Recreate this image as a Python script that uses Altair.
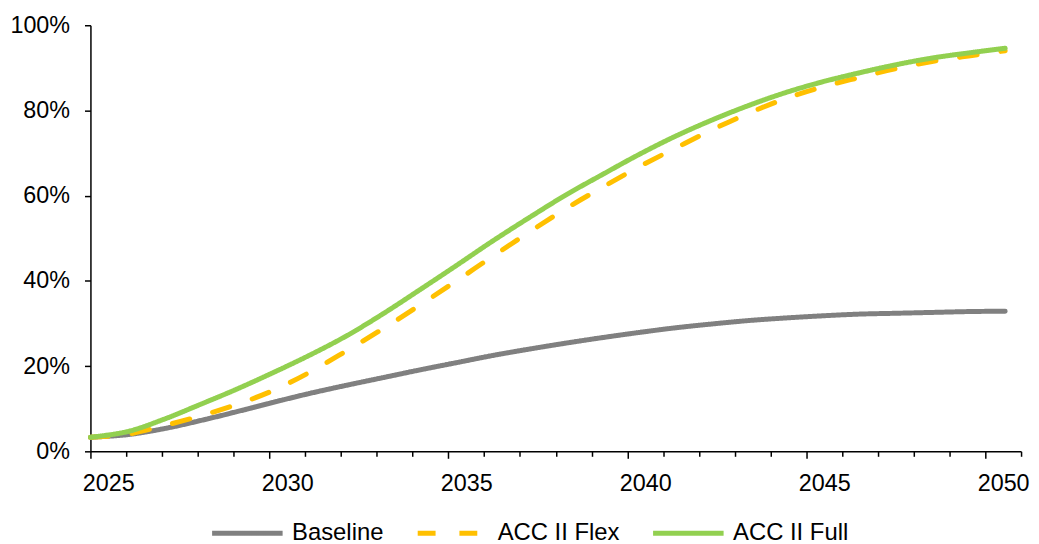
import altair as alt
import pandas as pd

years = list(range(2025, 2051))
axis_years = list(range(2025, 2052))
y_ticks = [0, 20, 40, 60, 80, 100]

series_names = ["Baseline", "ACC II Flex", "ACC II Full"]
baseline = [3.3, 3.9, 5.3, 7.2, 9.3, 11.5, 13.6, 15.5, 17.3, 19.1, 20.8, 22.5, 24.0,
            25.4, 26.7, 27.9, 29.0, 29.9, 30.7, 31.3, 31.8, 32.2, 32.4, 32.6, 32.8, 32.9]
flex = [3.3, 4.0, 6.0, 8.3, 11.0, 14.3, 18.6, 23.6, 28.8, 34.3, 40.0, 45.8, 51.5,
        57.0, 62.0, 66.8, 71.2, 75.5, 79.4, 82.8, 85.5, 87.7, 89.8, 91.5, 92.8, 94.0]
full = [3.3, 4.6, 7.5, 11.0, 14.6, 18.5, 22.6, 27.1, 32.3, 37.9, 43.6, 49.4, 54.9,
        60.2, 65.0, 69.7, 74.0, 77.8, 81.2, 84.2, 86.7, 88.8, 90.7, 92.3, 93.5, 94.6]

colors = ["#808080", "#FFC000", "#92D050"]
dashes = [[1, 0], [18, 24], [1, 0]]

rows = []
for name, vals in zip(series_names, [baseline, flex, full]):
    for yr, v in zip(years, vals):
        rows.append({"year": yr, "value": v, "series": name})
df = pd.DataFrame(rows)

FONT = "Liberation Sans"

legend = alt.Legend(
    title=None, orient="none", direction="horizontal", columns=3,
    legendX=120, legendY=473.5, symbolType="stroke", symbolSize=5041,
    symbolStrokeWidth=5, labelFontSize=24, labelFont=FONT, labelColor="black",
    labelOffset=7, columnPadding=23, padding=0,
)

lines = alt.Chart(df).mark_line(strokeWidth=5, strokeCap="round", strokeJoin="round",
                                interpolate="catmull-rom").encode(
    x=alt.X("year:Q", scale=alt.Scale(domain=[2025, 2050], range=[0, 921], nice=False, zero=False), axis=None),
    y=alt.Y("value:Q", scale=alt.Scale(domain=[0, 100], nice=False),
            axis=alt.Axis(values=y_ticks, labelExpr="datum.value + '%'", title=None, grid=False,
                          tickSize=6, labelPadding=15)),
    color=alt.Color("series:N", scale=alt.Scale(domain=series_names, range=colors), legend=legend),
    strokeDash=alt.StrokeDash("series:N", scale=alt.Scale(domain=series_names, range=dashes), legend=legend),
)

axis_layer = alt.Chart(pd.DataFrame({"year": axis_years})).mark_point(opacity=0).encode(
    x=alt.X("year:Q", scale=alt.Scale(domain=[2025, 2051], nice=False, zero=False),
            axis=alt.Axis(orient="bottom", values=axis_years, title=None, grid=False,
                          labelExpr="datum.value % 5 === 0 ? '' + datum.value : ''",
                          tickSize={"condition": {"test": "datum.value % 5 === 0", "value": 7}, "value": 5},
                          labelPadding=13, labelOffset=18, labelFlush=False, labelOverlap=False)),
)

chart = alt.layer(lines, axis_layer).resolve_scale(x="independent").properties(
    width=937, height=429,
    autosize=alt.AutoSizeParams(type="none"),
    padding={"left": 83, "top": 15.5, "right": 10, "bottom": 100},
).configure_view(stroke=None).configure_axis(
    domainColor="black", domainWidth=1.5, tickColor="black", tickWidth=1.5,
    labelFont=FONT, labelFontSize=23.5, labelColor="black",
)

chart.save("out.html", embed_options={"renderer": "svg", "actions": False})
